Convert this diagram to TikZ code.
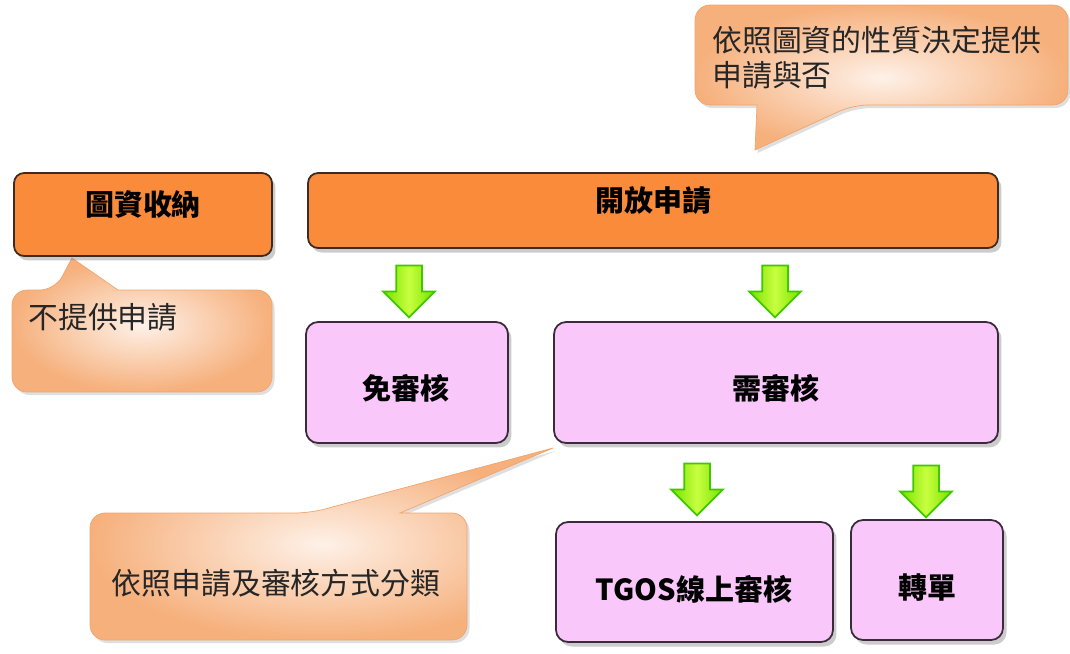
\documentclass[tikz,border=0pt]{standalone}
\usepackage{fontspec}
\setmainfont{Noto Sans CJK TC}
\usetikzlibrary{shadows,shapes.arrows}
\definecolor{boxorange}{HTML}{F98B3B}
\definecolor{boxpink}{HTML}{F9C7FA}
\definecolor{edgedark}{HTML}{3B2B22}
\definecolor{edgepink}{HTML}{3A2A3A}
\definecolor{peachout}{HTML}{F6B07C}
\definecolor{peachin}{HTML}{FEF1E8}
\definecolor{peachedge}{HTML}{F0A56E}
\definecolor{garrowfill}{HTML}{78E000}
\definecolor{garrowlight}{HTML}{C8FF40}
\definecolor{garrowedge}{HTML}{3DC800}
\tikzset{
  obox/.style={draw=edgedark, line width=1pt, fill=boxorange, rounded corners=0.2cm,
    drop shadow={shadow xshift=0.07cm, shadow yshift=-0.09cm, opacity=0.4}},
  pbox/.style={draw=edgepink, line width=1pt, fill=boxpink, rounded corners=0.24cm,
    drop shadow={shadow xshift=0.07cm, shadow yshift=-0.09cm, opacity=0.4}},
  btext/.style={font=\fontsize{16.5}{20}\selectfont\bfseries, text=black, inner sep=0pt},
  ctext/.style={font=\fontsize{17}{20}\selectfont, text=black!85, inner sep=0pt},
  callout/.style={shade, shading=radial, inner color=peachin, outer color=peachout,
    draw=peachedge, line width=0.4pt,
    drop shadow={shadow xshift=0.05cm, shadow yshift=-0.06cm, opacity=0.25}},
  garrow/.style={single arrow, shape border rotate=270, draw=garrowedge, line width=1pt,
    left color=garrowfill, right color=garrowfill, middle color=garrowlight,
    minimum height=1.04cm, inner sep=0.24cm, single arrow head extend=0.26cm}
}
\begin{document}
\begin{tikzpicture}[x=0.02cm, y=-0.02cm]
\useasboundingbox (0,0) rectangle (1070,653);

% callouts
\path[callout] (695,55) [rounded corners=0.3cm] -- (695,5) -- (1068,5) -- (1068,105)
  -- (853,105) [sharp corners] -- (755,150) -- (757,105) [rounded corners=0.3cm] -- (695,105) -- cycle;
\path[callout] (12,340) [rounded corners=0.3cm] -- (12,290) -- (55,290) [sharp corners]
  -- (72,258) -- (118,290) [rounded corners=0.3cm] -- (272,290) -- (272,392) -- (12,392) -- cycle;
\path[callout] (90,580) [rounded corners=0.3cm] -- (90,513) -- (310,513) [sharp corners]
  -- (553,448) -- (400,513) [rounded corners=0.3cm] -- (467,513) -- (467,640) -- (90,640) -- cycle;

\node[ctext, anchor=west, align=left] (t7) at (712,57.5) {依照圖資的性質決定提供\\申請與否};
\node[ctext, anchor=west] (t8) at (28,317) {不提供申請};
\node[ctext] (t9) at (276,583) {依照申請及審核方式分類};

% orange boxes
\node[obox, minimum width=5.16cm, minimum height=1.66cm] (b1) at (143,214.5) {};
\node[obox, minimum width=13.8cm, minimum height=1.5cm] (b2) at (653,210.5) {};
\node[btext] (t1) at (143,204) {圖資收納};
\node[btext] (t2) at (653,201) {開放申請};

% pink boxes
\node[pbox, minimum width=4.04cm, minimum height=2.42cm] (b3) at (407,382.5) {};
\node[pbox, minimum width=8.88cm, minimum height=2.42cm] (b4) at (776,382.5) {};
\node[pbox, minimum width=5.54cm, minimum height=2.4cm] (b5) at (694.5,582) {};
\node[pbox, minimum width=3.04cm, minimum height=2.4cm] (b6) at (927,580) {};
\node[btext] (t3) at (406,388) {免審核};
\node[btext] (t4) at (776,388) {需審核};
\node[btext] (t5) at (694,589) {TGOS線上審核};
\node[btext] (t6) at (927,588) {轉單};

% green arrows
\node[garrow] (a1) at (409,285) {};
\node[garrow] (a2) at (775,285) {};
\node[garrow] (a3) at (697,483) {};
\node[garrow] (a4) at (926,485) {};
\end{tikzpicture}
\end{document}
